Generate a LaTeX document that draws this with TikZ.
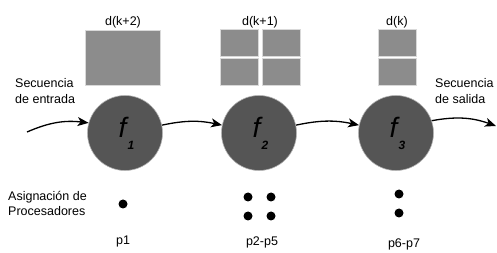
\documentclass[tikz,border=0pt]{standalone}
\usepackage{fontspec}
\setmainfont{Liberation Sans}
\usetikzlibrary{arrows.meta}
\definecolor{stagegray}{HTML}{555555}
\definecolor{blockgray}{HTML}{8C8C8C}
\begin{document}
\begin{tikzpicture}[x=1pt,y=-1pt,>={Stealth[length=11pt,width=9pt,inset=3pt]},
  stage/.style={circle,fill=stagegray,draw=gray!60,line width=0.6pt,minimum size=75pt,inner sep=0pt},
  block/.style={rectangle,fill=blockgray,draw=gray!30,line width=0.8pt,inner sep=0pt},
  proc/.style={circle,fill=black,minimum size=9pt,inner sep=0pt},
  txt/.style={font=\fontsize{12.5}{15.5}\selectfont,inner sep=0pt},
  flow/.style={->,line width=1.3pt}]
  \useasboundingbox (0,0) rectangle (497,253);
  % etapas del pipeline
  \foreach \i/\x in {1/125,2/259,3/396}{
    \node[stage] (f\i) at (\x,133) {};
    \node[font=\fontsize{28}{28}\selectfont\itshape,inner sep=0pt] (fl\i) at (\x-2.5,127) {f};
    \node[font=\fontsize{12}{12}\selectfont\bfseries\itshape,inner sep=0pt] (fs\i) at (\x+6,145) {\i};
  }
  % bloques de datos
  \node[block,minimum width=75pt,minimum height=55pt] (b1) at (122.5,57.5) {};
  \foreach \x in {239,281}\foreach \y in {42.5,72}
    \node[block,minimum width=38pt,minimum height=27pt] at (\x,\y) {};
  \foreach \y in {42.5,72}
    \node[block,minimum width=38pt,minimum height=27pt] at (397,\y) {};
  \node[txt] (d1) at (123,22) {d(k+2)};
  \node[txt] (d2) at (260,22) {d(k+1)};
  \node[txt] (d3) at (397,22) {d(k)};
  % secuencias
  \node[txt,anchor=west,align=left] (ent) at (15,91) {Secuencia\\de entrada};
  \node[txt,anchor=west,align=left] (sal) at (435,91) {Secuencia\\de salida};
  \coordinate (in) at (27,132);
  \coordinate (out) at (496,126);
  \draw[flow] (in) to[bend left=15] (f1);
  \draw[flow] (f1) to[bend left=12] (f2);
  \draw[flow] (f2) to[bend left=12] (f3);
  \draw[flow] (f3) to[bend left=15] (out);
  % procesadores
  \node[txt,anchor=west,align=left] (asig) at (8,203.5) {Asignación de\\Procesadores};
  \node[proc] (p1) at (123,204) {};
  \foreach \x in {248,271}\foreach \y in {197,216}
    \node[proc] at (\x,\y) {};
  \node[proc] (p6) at (399,194) {};
  \node[proc] (p7) at (399,213) {};
  \node[txt] (l1) at (123,241) {p1};
  \node[txt] (l2) at (262,242) {p2-p5};
  \node[txt] (l3) at (404,244) {p6-p7};
\end{tikzpicture}
\end{document}
